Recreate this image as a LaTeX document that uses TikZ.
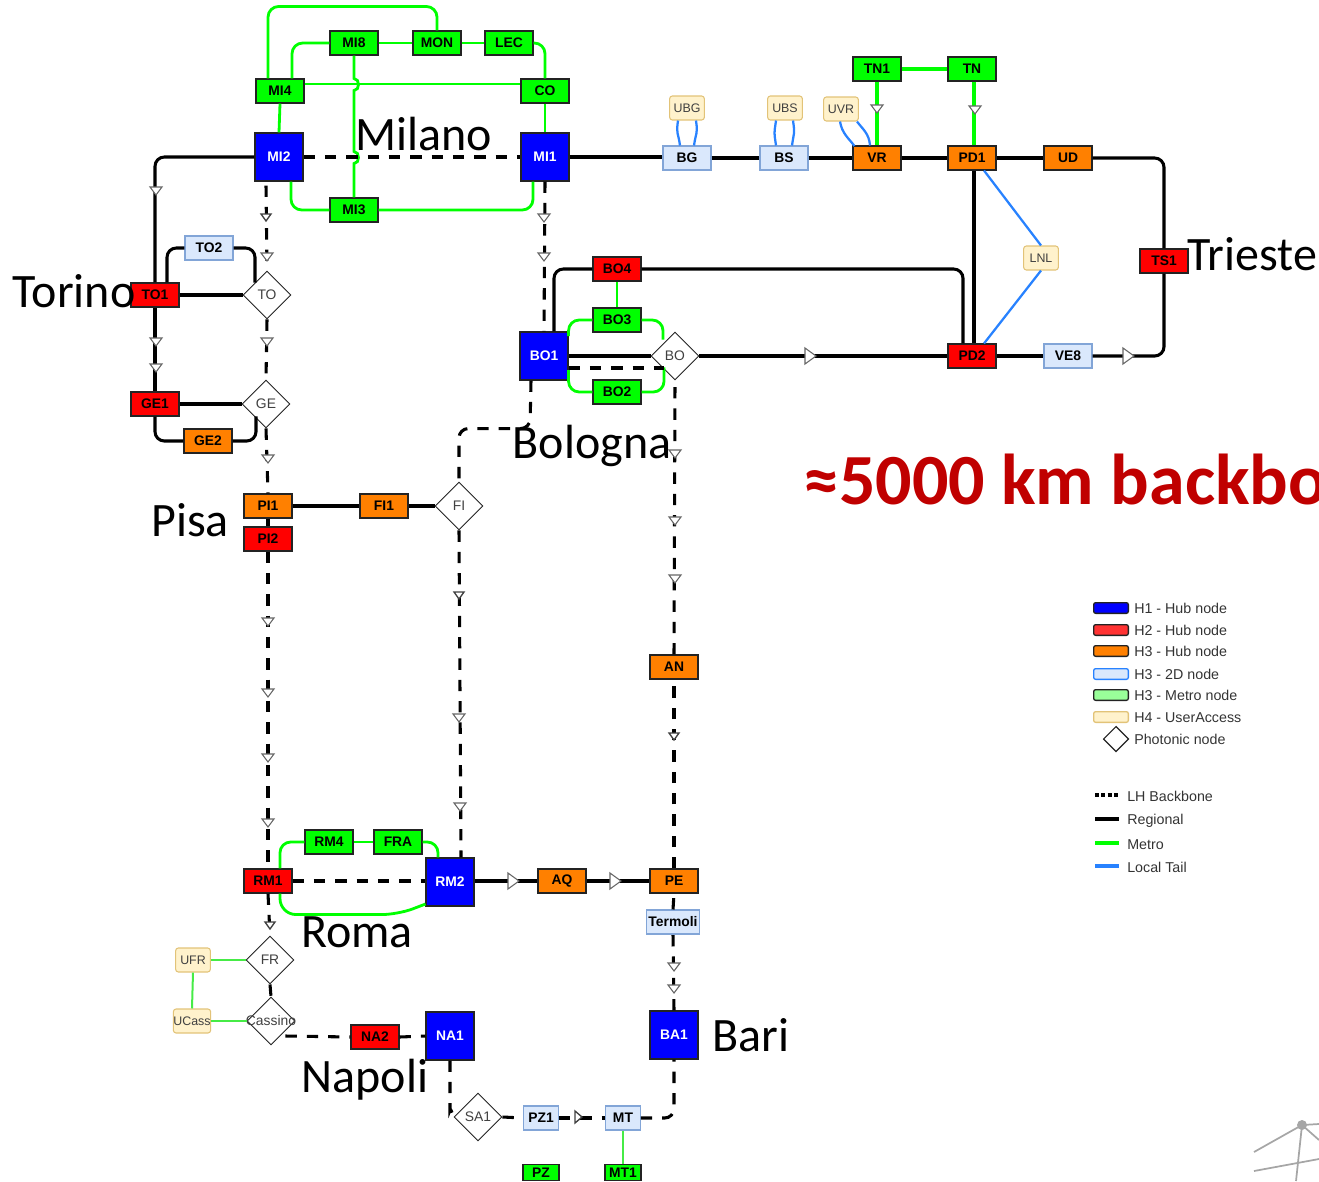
\documentclass[tikz,border=0pt]{standalone}
\usepackage{fontspec}
\setmainfont{Liberation Sans}
\newfontfamily\bigfont{Carlito}
\usetikzlibrary{shapes.geometric,calc}
\definecolor{hubB}{RGB}{0,0,255}
\definecolor{hubR}{RGB}{255,0,0}
\definecolor{hubO}{RGB}{255,128,0}
\definecolor{twoD}{RGB}{218,232,252}
\definecolor{twoDl}{RGB}{130,165,215}
\definecolor{metroG}{RGB}{0,255,0}
\definecolor{thinG}{RGB}{70,235,70}
\definecolor{ufill}{RGB}{255,242,204}
\definecolor{uline}{RGB}{226,195,120}
\definecolor{tail}{RGB}{40,130,255}
\definecolor{bord}{RGB}{35,35,35}
\tikzset{
  base/.style={rectangle,inner sep=0pt,draw=bord,line width=.8pt,font=\fontsize{10.4}{12}\selectfont\bfseries,text=black,minimum width=36pt,minimum height=18pt},
  hubone/.style={base,fill=hubB,text=white,minimum height=36pt},
  hubtwo/.style={base,fill=hubR},
  hubthree/.style={base,fill=hubO},
  twod/.style={base,fill=twoD,draw=twoDl},
  metronode/.style={base,fill=metroG},
  useracc/.style={rectangle,rounded corners=2pt,inner sep=0pt,draw=uline,line width=.8pt,fill=ufill,font=\fontsize{9.3}{11}\selectfont,text=black!75,minimum width=26pt,minimum height=18pt},
  photonic/.style={diamond,aspect=1,inner sep=0pt,draw=bord,line width=.7pt,fill=white,font=\fontsize{10.4}{12}\selectfont,text=black!75,minimum width=36pt,minimum height=36pt},
  reg/.style={line width=2.3pt,black,rounded corners=7pt},
  lh/.style={line width=2.3pt,black,dash pattern=on 8.5pt off 7.5pt,rounded corners=7pt},
  met/.style={line width=2.1pt,metroG,rounded corners=8pt},
  metheavy/.style={line width=2.3pt,metroG},
  thinmet/.style={line width=1.5pt,thinG},
  ltail/.style={line width=1.7pt,tail},
  tri/.style={draw=black!60,line width=.8pt,fill=white,line join=miter},
  tridk/.style={draw=black!75,line width=1pt,fill=white,line join=miter},
  city/.style={font=\bigfont\fontsize{36}{42}\selectfont,text=black,inner sep=0pt},
  legtext/.style={font=\fontsize{10.7}{12}\selectfont,text=black!80,anchor=west,inner sep=0pt},
  legbox/.style={rectangle,rounded corners=1.5pt,minimum width=26pt,minimum height=8pt,inner sep=0pt,line width=1pt},
  logo/.style={line width=1.3pt,black!35}
}
\newcommand\tridown[3][tri]{\path[#1] (#2,#3) ++(-6,-4) -- ++(12,0) -- ++(-6,8) -- cycle;}
\newcommand\triright[3][tri]{\path[#1] (#2,#3) ++(-5,-8) -- ++(0,16) -- ++(11,-8) -- cycle;}
\newcommand\smalldown[2]{\path[tridk] (#1,#2) ++(-5,-3) -- ++(10,0) -- ++(-5,7) -- cycle;}
\newcommand\smallright[2]{\path[tridk] (#1,#2) ++(-3,-6) -- ++(0,12) -- ++(7,-6) -- cycle;}
\begin{document}
\begin{tikzpicture}[x=.75pt,y=-.75pt]
\useasboundingbox (0,0) rectangle (1319,1181);
% nodes
\node[metronode] (MI8) at (354,43) {MI8};
\node[metronode] (MON) at (437,43) {MON};
\node[metronode] (LEC) at (509,43) {LEC};
\node[metronode] (MI4) at (280,91) {MI4};
\node[metronode] (CO) at (545,91) {CO};
\node[hubone] (MI2) at (279,157) {MI2};
\node[hubone] (MI1) at (545,157) {MI1};
\node[metronode] (MI3) at (354,210) {MI3};
\node[twod] (TO2) at (209,248) {TO2};
\node[hubtwo] (TO1) at (155,295) {TO1};
\node[photonic] (TO) at (267,295) {TO};
\node[hubtwo] (GE1) at (155,404) {GE1};
\node[photonic] (GE) at (266,404) {GE};
\node[hubthree] (GE2) at (208,441) {GE2};
\node[hubthree] (PI1) at (268,506) {PI1};
\node[hubtwo] (PI2) at (268,539) {PI2};
\node[hubthree] (FI1) at (384,506) {FI1};
\node[photonic] (FI) at (459,506) {FI};
\node[hubtwo] (BO4) at (617,269) {BO4};
\node[metronode] (BO3) at (617,320) {BO3};
\node[hubone] (BO1) at (544,356) {BO1};
\node[photonic] (BO) at (675,356) {BO};
\node[metronode] (BO2) at (617,392) {BO2};
\node[useracc] (UBG) at (687,108) {UBG};
\node[useracc] (UBS) at (785,108) {UBS};
\node[useracc] (UVR) at (841,109) {UVR};
\node[twod] (BG) at (687,158) {BG};
\node[twod] (BS) at (784,158) {BS};
\node[hubthree] (VR) at (877,158) {VR};
\node[hubthree] (PD1) at (972,158) {PD1};
\node[hubthree] (UD) at (1068,158) {UD};
\node[metronode] (TN1) at (877,69) {TN1};
\node[metronode] (TN) at (972,69) {TN};
\node[useracc] (LNL) at (1041,258) {LNL};
\node[hubtwo] (TS1) at (1164,261) {TS1};
\node[hubtwo] (PD2) at (972,356) {PD2};
\node[twod] (VE8) at (1068,356) {VE8};
\node[hubthree] (AN) at (674,667) {AN};
\node[metronode] (RM4) at (329,842) {RM4};
\node[metronode] (FRA) at (398,842) {FRA};
\node[hubtwo] (RM1) at (268,881) {RM1};
\node[hubone] (RM2) at (450,882) {RM2};
\node[hubthree] (AQ) at (562,881) {AQ};
\node[hubthree] (PE) at (674,881) {PE};
\node[twod,minimum width=40pt] (Termoli) at (673,922) {Termoli};
\node[useracc] (UFR) at (193,960) {UFR};
\node[photonic] (FR) at (270,960) {FR};
\node[useracc] (UCass) at (192,1021) {UCass};
\node[photonic] (Cassino) at (271,1021) {\makebox[0pt]{Cassino}};
\node[hubtwo] (NA2) at (375,1037) {NA2};
\node[hubone] (NA1) at (450,1036) {NA1};
\node[hubone] (BA1) at (674,1035) {BA1};
\node[photonic] (SA1) at (478,1117) {SA1};
\node[twod,minimum width=26pt] (PZ1) at (541,1118) {PZ1};
\node[twod,minimum width=26pt] (MT) at (623,1118) {MT};
\node[metronode,minimum width=27pt,minimum height=12.6pt] (PZ) at (541,1172.5) {PZ};
\node[metronode,minimum width=27pt,minimum height=12.6pt] (MT1) at (623,1172.5) {MT1};
% metro links
\draw[met] ($(MI4.north)+(-12,0)$) -- ++(0,-72) -| (MON.north);
\draw[met] ($(MI4.north)+(12,0)$) |- (MI8.west);
\draw[met] (MI8.east) -- (MON.west);
\draw[met] (MON.east) -- (LEC.west);
\draw[met] (LEC.east) -| (CO.north);
\draw[met] ($(MI4.east)+(0,-7)$) -- ($(CO.west)+(0,-7)$);
\draw[met] (MI4.south) -- (MI2.north);
\draw[met] (CO.south) -- (MI1.north);
\draw[met] ($(MI2.south)+(12,0)$) |- (MI3.west);
\draw[met] (MI3.east) -| ($(MI1.south)+(-12,0)$);
\draw[line width=2.1pt,metroG] (MI8.south) -- ($(MI8.south)+(0,23)$) .. controls ++(6,0) and ++(6,0) .. ++(0,12) -- ($(MI8.south)+(0,96)$) .. controls ++(6,0) and ++(6,0) .. ++(0,12) -- (MI3.north);
\draw[metheavy] (TN1.east) -- (TN.west);
\draw[metheavy] (TN1.south) -- (VR.north);
\draw[metheavy] ($(TN.south)+(2,0)$) -- ($(PD1.north)+(2,0)$);
\draw[met] (BO4.south) -- (BO3.north);
\draw[met] (BO3.west) -| ($(BO1.east)+(0,-20)$);
\draw[met] (BO3.east) -| ($(BO.north)+(-12,8)$);
\draw[met] (BO2.west) -| ($(BO1.east)+(0,14)$);
\draw[met] (BO2.east) -| ($(BO.south)+(-11,-13)$);
\draw[met] (RM4.east) -- (FRA.west);
\draw[met] (RM4.west) -| ($(RM1.north)+(12,0)$);
\draw[met] (FRA.east) -| ($(RM2.north)+(-12,0)$);
\draw[met,rounded corners=12pt] ($(RM1.south)+(12,0)$) |- ($(RM1.south)+(80,21)$) -- ($(RM1.south)+(130,21)$) -- ($(RM2.west)+(0,22)$);
\draw[thinmet] (UFR.east) -- (FR.west);
\draw[thinmet] (UFR.south) -- (UCass.north);
\draw[thinmet] (UCass.east) -- (Cassino.west);
\draw[thinmet] (MT.south) -- (MT1.north);
% regional links
\draw[reg] (MI2.west) -| (TO1.north);
\draw[reg] (TO1.south) -- (GE1.north);
\draw[reg] (TO2.west) -| ($(TO1.north)+(12,0)$);
\draw[reg] (TO2.east) -| ($(TO.north)+(-12,12)$);
\draw[reg] (TO1.east) -- (TO.west);
\draw[reg] (GE1.east) -- (GE.west);
\draw[reg] (GE1.south) |- (GE2.west);
\draw[reg] (GE2.east) -| ($(GE.south)+(-10,-12)$);
\draw[reg] (PI1.east) -- (FI1.west);
\draw[reg] (FI1.east) -- (FI.west);
\draw[reg] (PI1.south) -- (PI2.north);
\draw[reg] (MI1.east) -- (MI1.east -| BG.west);
\draw[reg] (BG.east) -- (BS.west);
\draw[reg] (BS.east) -- (VR.west);
\draw[reg] (VR.east) -- (PD1.west);
\draw[reg] (PD1.east) -- (UD.west);
\draw[reg] (UD.east) -| (TS1.north);
\draw[reg] (TS1.south) |- (VE8.east);
\draw[reg] (PD2.east) -- (VE8.west);
\draw[reg] ($(PD1.south)+(2,0)$) -- ($(PD2.north)+(2,0)$);
\draw[reg] (BO.east) -- (PD2.west);
\draw[reg] (BO4.east) -| ($(PD2.north)+(-9,0)$);
\draw[reg] (BO4.west) -| ($(BO1.north)+(10,0)$);
\draw[reg] (BO1.east) -- (BO.west);
\draw[reg] (RM2.east |- AQ.west) -- (AQ.west);
\draw[reg] (AQ.east) -- (PE.west);
% LH backbone links
\draw[lh] (MI2.east) -- (MI1.west);
\draw[lh] ($(MI2.south)+(-13,4)$) -- (TO.north);
\draw[lh] (TO.south) -- (GE.north);
\draw[lh] (GE.south) -- (PI1.north);
\draw[lh] (PI2.south) -- (RM1.north);
\draw[lh] (RM1.south) -- (FR.north);
\draw[lh] (RM1.east) -- (RM1.east -| RM2.west);
\draw[lh] (FR.south) -- (Cassino.north);
\draw[lh] ($(Cassino.east)+(-10,15)$) -- (NA2.west);
\draw[lh] (NA2.east) -- (NA1.west);
\draw[lh] (NA1.south) -- ++(0,40) .. controls ++(0,7) and ++(-2,-6) .. (SA1.west);
\draw[lh] (SA1.east) -- (PZ1.west);
\draw[lh] (PZ1.east) -- (MT.west);
\draw[lh] (MT.east) -| (BA1.south);
\draw[lh] (BA1.north) -- (Termoli.south);
\draw[lh] (Termoli.north) -- (PE.south);
\draw[lh] (PE.north) -- (AN.south);
\draw[lh] (AN.north) -- (BO.south);
\draw[lh] ($(BO1.east)+(0,12)$) -- ($(BO.west)+(13,12)$);
\draw[lh] (MI1.south) -- (BO1.north);
\draw[lh] ($(BO1.south)+(-13,0)$) -- ++(-1,48) -- ++(-71,0) -- (FI.north);
\draw[lh] (FI.south) -- ($(RM2.north)+(11,0)$);
% local tails
\draw[ltail] ($(UBG.south)+(-9,0)$) .. controls ++(-2,14) and ++(-2,-14) .. ($(BG.north)+(-7,0)$);
\draw[ltail] ($(UBG.south)+(9,0)$) .. controls ++(2,14) and ++(2,-14) .. ($(BG.north)+(7,0)$);
\draw[ltail] ($(UBS.south)+(-9,0)$) .. controls ++(-2,14) and ++(-2,-14) .. ($(BS.north)+(-8,0)$);
\draw[ltail] ($(UBS.south)+(8,0)$) .. controls ++(2,14) and ++(2,-14) .. ($(BS.north)+(8,0)$);
\draw[ltail] ($(UVR.south)+(-1,0)$) .. controls ++(2,12) and ++(-6,-8) .. ($(VR.west)+(2,-12)$);
\draw[ltail] ($(UVR.south)+(16,0)$) .. controls ++(6,8) and ++(-1,-12) .. ($(VR.north)+(-7,0)$);
\draw[ltail] ($(PD1.south)+(12,0)$) -- (LNL.north);
\draw[ltail] (LNL.south) -- ($(PD2.north)+(12,0)$);
% flow triangles
\tridown{156}{191}
\smalldown{266}{217}
\tridown{267}{257}
\tridown{544}{218}
\tridown{544}{257}
\tridown{156}{342}
\tridown{156}{368}
\tridown{267}{342}
\tridown{268}{459}
\tridown{675}{454}
\tridown{675}{521}
\tridown{675}{579}
\smalldown{674}{736}
\tridown{268}{622}
\tridown{268}{693}
\tridown{268}{758}
\tridown{268}{823}
\smalldown{459}{595}
\tridown{459}{718}
\tridown{460}{807}
\smalldown{270}{925}
\tridown{674}{967}
\tridown{674}{989}
\tridown{877}{109}
\tridown{975}{110}
\triright{810}{356}
\triright{1128}{356}
\triright{513}{881}
\triright{615}{881}
\smallright{578}{1117}
% city labels
\node[city] (lMilano) at (424,134) {Milano};
\node[city] (lTrieste) at (1252,254) {Trieste};
\node[city] (lTorino) at (74,291) {Torino};
\node[city] (lPisa) at (190,520) {Pisa};
\node[city] (lBologna) at (592,446) {Bologna};
\node[city] (lRoma) at (357,932) {Roma};
\node[city] (lNapoli) at (365,1080) {Napoli};
\node[city] (lBari) at (751,1035) {Bari};
\begin{scope}
\clip (0,0) rectangle (1319,1181);
\node[anchor=west,inner sep=0pt,font=\bigfont\bfseries\fontsize{54}{60}\selectfont,text={rgb,255:red,192;green,0;blue,0}] (headline) at (803,479) {≈5000 km backbo};
\end{scope}
% legend boxes
\node[legbox,draw=bord,fill=hubB] (k1) at (1111,608) {};
\node[legbox,draw=bord,fill={rgb,255:red,255;green,51;blue,51}] (k2) at (1111,630) {};
\node[legbox,draw=bord,fill=hubO] (k3) at (1111,651) {};
\node[legbox,draw=tail,fill=twoD] (k4) at (1111,674) {};
\node[legbox,draw=bord,fill={rgb,255:red,153;green,255;blue,153}] (k5) at (1111,695) {};
\node[legbox,draw=uline,fill=ufill] (k6) at (1111,717) {};
\node[diamond,aspect=1,draw=bord,line width=.9pt,fill=white,minimum width=19pt,minimum height=19pt,inner sep=0pt] (k7) at (1116,739) {};
\node[legtext] (t1) at (1134,608.5) {H1 - Hub node};
\node[legtext] (t2) at (1134,630.5) {H2 - Hub node};
\node[legtext] (t3) at (1134,651.5) {H3 - Hub node};
\node[legtext] (t4) at (1134,674.5) {H3 - 2D node};
\node[legtext] (t5) at (1134,695.5) {H3 - Metro node};
\node[legtext] (t6) at (1134,717.5) {H4 - UserAccess};
\node[legtext] (t7) at (1134,739) {Photonic node};
% legend lines
\coordinate (a1) at (1095,795); \coordinate (b1) at (1119,795);
\coordinate (a2) at (1095,819); \coordinate (b2) at (1119,819);
\coordinate (a3) at (1095,843); \coordinate (b3) at (1119,843);
\coordinate (a4) at (1095,866); \coordinate (b4) at (1119,866);
\draw[line width=2.6pt,black,dash pattern=on 3pt off 1.7pt] (a1) -- (b1);
\draw[line width=2.6pt,black] (a2) -- (b2);
\draw[line width=2.6pt,metroG] (a3) -- (b3);
\draw[line width=2.6pt,tail] (a4) -- (b4);
\node[legtext] (t8) at (1127,796.5) {LH Backbone};
\node[legtext] (t9) at (1127,820.5) {Regional};
\node[legtext] (t10) at (1127,844.5) {Metro};
\node[legtext] (t11) at (1127,867.5) {Local Tail};
% corner logo fragment
\draw[logo] (1302,1125) -- (1254,1152);
\draw[logo] (1302,1125) -- (1296,1181);
\draw[logo] (1302,1125) -- (1319,1124);
\draw[logo] (1302,1125) -- (1319,1140);
\draw[logo] (1254,1171) -- (1319,1159);
\fill[black!35] (1302,1125) circle (5);
\end{tikzpicture}
\end{document}
